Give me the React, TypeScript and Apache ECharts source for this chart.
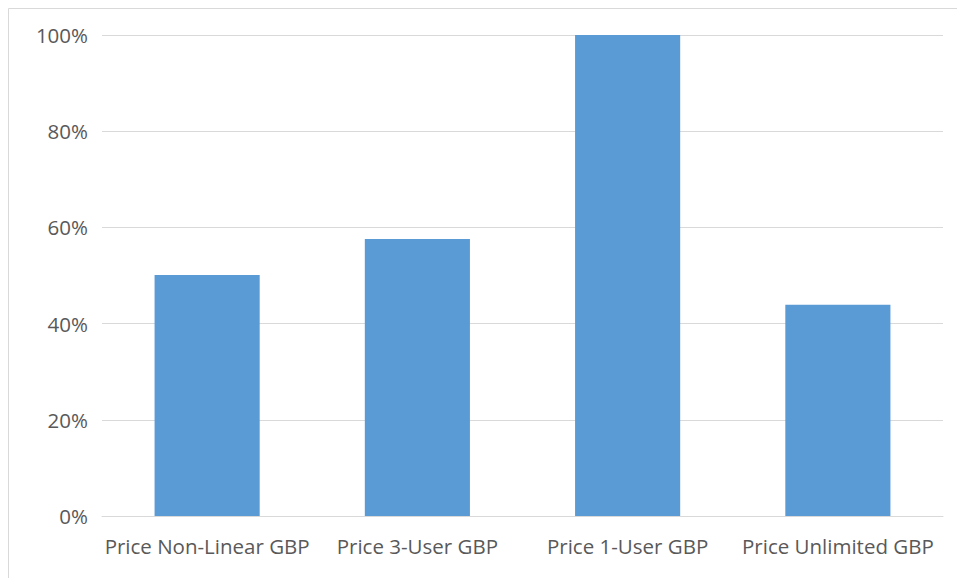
import React, { useEffect, useRef } from "react";
import * as echarts from "echarts";

const categories = ["Price Non-Linear GBP", "Price 3-User GBP", "Price 1-User GBP", "Price Unlimited GBP"];
const values = [0.501, 0.576, 1.0, 0.439];
const yTicks = [0, 0.2, 0.4, 0.6, 0.8, 1.0];

export default function App() {
  const ref = useRef<HTMLDivElement>(null);
  useEffect(() => {
    if (!ref.current) return;
    const chart = echarts.init(ref.current, undefined, { renderer: "svg" });
    const font = "'Open Sans', 'Noto Sans', sans-serif";
    chart.setOption({
      animation: false,
      backgroundColor: "#ffffff",
      graphic: [
        {
          type: "rect",
          shape: { x: 8.5, y: 8.5, width: 1000, height: 1000 },
          style: { fill: "none", stroke: "#d9d9d9", lineWidth: 1 },
          silent: true,
        },
      ],
      grid: { left: 102, right: 14, top: 35, bottom: 62, containLabel: false },
      xAxis: {
        type: "category",
        data: categories,
        axisLine: { show: true, lineStyle: { color: "#d9d9d9", width: 1 } },
        axisTick: { show: false },
        axisLabel: { color: "#595959", fontSize: 20.5, fontFamily: font, margin: 19, interval: 0 },
        splitLine: { show: false },
      },
      yAxis: {
        type: "value",
        min: yTicks[0],
        max: yTicks[yTicks.length - 1],
        interval: 0.2,
        axisLine: { show: false },
        axisTick: { show: false },
        axisLabel: {
          color: "#595959",
          fontSize: 20.5,
          fontFamily: font,
          margin: 14,
          formatter: (v: number) => Math.round(v * 100) + "%",
        },
        splitLine: { show: true, lineStyle: { color: "#d9d9d9", width: 1 } },
      },
      series: [
        {
          type: "bar",
          data: values,
          barWidth: "50%",
          itemStyle: { color: "#5b9bd5" },
        },
      ],
    });
    return () => chart.dispose();
  }, []);
  return (
    <div
      ref={ref}
      style={{ position: "absolute", left: 0, top: 0, width: 957, height: 578 }}
    />
  );
}
